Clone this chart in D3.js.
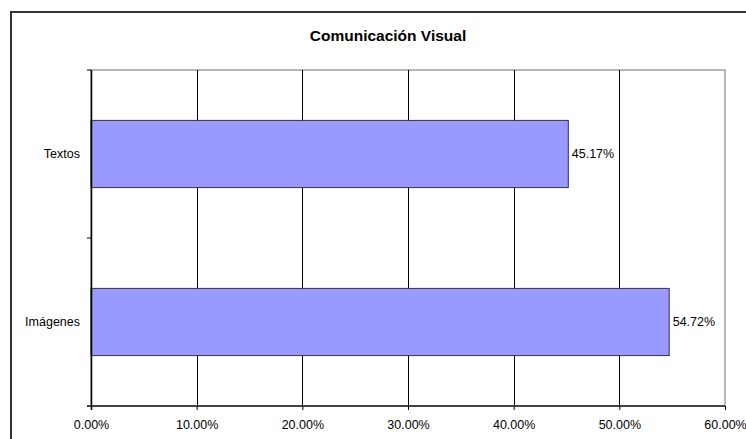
<!DOCTYPE html>
<html>
<head>
<meta charset="utf-8">
<script src="https://cdn.jsdelivr.net/npm/d3@7"></script>
<style>
  body { margin: 0; background: #fff; }
  svg { display: block; }
  text { font-family: "Liberation Sans", Arial, sans-serif; fill: #000; }
</style>
</head>
<body>
<div id="chart"></div>
<script>
const title = "Comunicación Visual";
const categories = ["Textos", "Imágenes"];
const values = [0.4517, 0.5472];
const xTicks = [0, 0.1, 0.2, 0.3, 0.4, 0.5, 0.6];

const W = 746, H = 439;
const plot = { left: 91, right: 725, top: 70, bottom: 406 };

const svg = d3.select("#chart").append("svg").attr("width", W).attr("height", H);

// outer frame
svg.append("rect")
  .attr("x", 11).attr("y", 12).attr("width", 780).attr("height", 460)
  .attr("fill", "#fff").attr("stroke", "#333").attr("stroke-width", 2);

svg.append("text")
  .attr("x", 388).attr("y", 41)
  .attr("text-anchor", "middle")
  .attr("font-size", 15.5).attr("font-weight", "bold")
  .text(title);

const x = d3.scaleLinear().domain([0, 0.6]).range([plot.left, plot.right]);
const y = d3.scaleBand().domain(categories).range([plot.top, plot.bottom]).paddingInner(0.6).paddingOuter(0.3);

// plot area border (grey)
svg.append("rect")
  .attr("x", plot.left).attr("y", plot.top)
  .attr("width", plot.right - plot.left).attr("height", plot.bottom - plot.top)
  .attr("fill", "none").attr("stroke", "#a0a0a0").attr("stroke-width", 1.5);

// gridlines
svg.append("g").selectAll("line")
  .data(xTicks.filter(d => d > 0 && d < 0.6))
  .join("line")
  .attr("x1", d => Math.round(x(d)) + 0.5).attr("x2", d => Math.round(x(d)) + 0.5)
  .attr("y1", plot.top).attr("y2", plot.bottom)
  .attr("stroke", "#000").attr("stroke-width", 1);

// bars
svg.append("g").selectAll("rect")
  .data(categories)
  .join("rect")
  .attr("x", x(0))
  .attr("y", d => y(d))
  .attr("width", (d, i) => x(values[i]) - x(0))
  .attr("height", y.bandwidth())
  .attr("fill", "#9999ff")
  .attr("stroke", "#333").attr("stroke-width", 1);

// value labels
svg.append("g").selectAll("text")
  .data(categories)
  .join("text")
  .attr("x", (d, i) => x(values[i]) + 3.5)
  .attr("y", d => y(d) + y.bandwidth() / 2)
  .attr("dy", "0.35em")
  .attr("font-size", 12.5)
  .text((d, i) => d3.format(".2%")(values[i]));

// x axis
const xAxis = d3.axisBottom(x).tickValues(xTicks).tickFormat(d3.format(".2%")).tickSize(4).tickPadding(10);
const gx = svg.append("g").attr("transform", `translate(0,${plot.bottom})`).call(xAxis);
gx.select(".domain").attr("stroke", "#444").attr("stroke-width", 2).attr("d", `M${plot.left - 4},0H${plot.right}`);
gx.selectAll(".tick line").attr("stroke", "#000");
gx.selectAll(".tick text").attr("font-size", 12.5).attr("font-family", "Liberation Sans, Arial, sans-serif").attr("fill", "#000");

// y axis
const yLine = svg.append("g");
yLine.append("line")
  .attr("x1", plot.left + 0.5).attr("x2", plot.left + 0.5)
  .attr("y1", plot.top).attr("y2", plot.bottom + 4)
  .attr("stroke", "#000").attr("stroke-width", 1.5);
// category separators ticks
const sepPositions = [plot.top, (y(categories[0]) + y.bandwidth() + y(categories[1])) / 2];
yLine.selectAll("line.sep")
  .data(sepPositions)
  .join("line").attr("class", "sep")
  .attr("x1", plot.left - 4).attr("x2", plot.left)
  .attr("y1", d => d).attr("y2", d => d)
  .attr("stroke", "#000").attr("stroke-width", 1);

svg.append("g").selectAll("text")
  .data(categories)
  .join("text")
  .attr("x", 80)
  .attr("y", d => y(d) + y.bandwidth() / 2)
  .attr("dy", "0.35em")
  .attr("text-anchor", "end")
  .attr("font-size", 12.5)
  .text(d => d);
</script>
</body>
</html>
